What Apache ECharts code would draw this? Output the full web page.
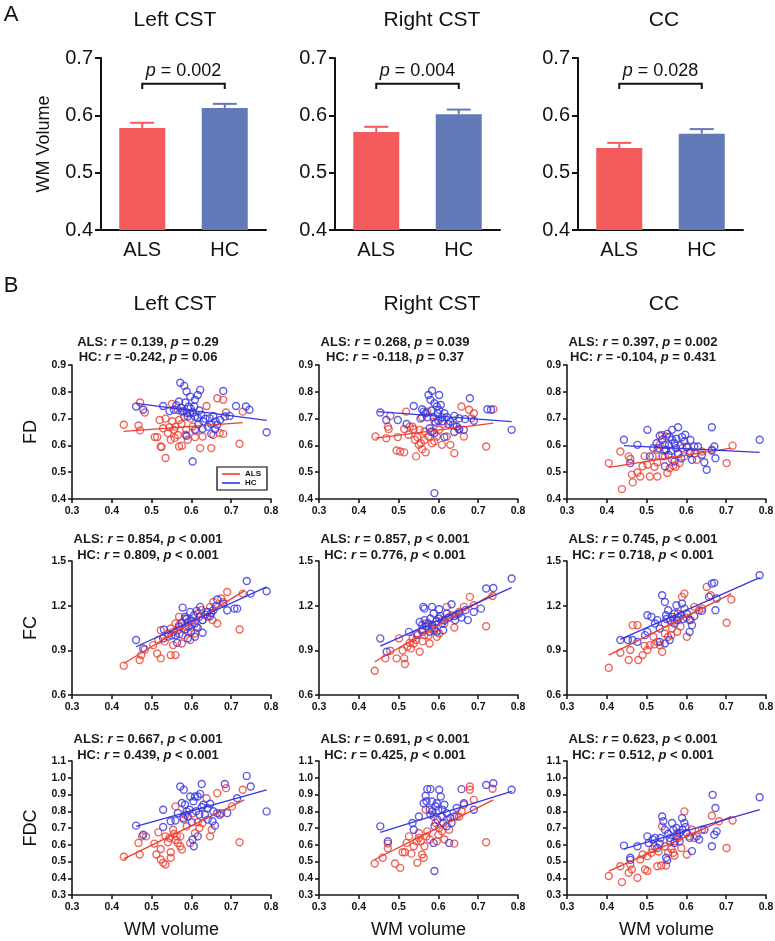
<!DOCTYPE html>
<html>
<head>
<meta charset="utf-8">
<script src="https://cdn.jsdelivr.net/npm/echarts@6/dist/echarts.min.js"></script>
<style>html,body{margin:0;padding:0;background:#fff}#c{width:775px;height:941px}</style>
</head>
<body>
<div id="c"></div>
<script>
// ---------- DATA ----------
const barTitles = ['Left CST', 'Right CST', 'CC'];
const barCategories = ['ALS', 'HC'];
const barMeanLeftCST = [0.578, 0.613];
const barSemLeftCST = [0.009, 0.007];
const barMeanRightCST = [0.571, 0.602];
const barSemRightCST = [0.009, 0.008];
const barMeanCC = [0.543, 0.568];
const barSemCC = [0.009, 0.008];
const barPValues = ['0.002', '0.004', '0.028'];

const regionNames = ['Left CST', 'Right CST', 'CC'];
const metricNames = ['FD', 'FC', 'FDC'];

// stats per panel (row-major: FD L,R,CC ; FC L,R,CC ; FDC L,R,CC)
const statsALS_r = ['0.139','0.268','0.397','0.854','0.857','0.745','0.667','0.691','0.623'];
const statsALS_p = ['= 0.29','= 0.039','= 0.002','< 0.001','< 0.001','< 0.001','< 0.001','< 0.001','< 0.001'];
const statsHC_r = ['-0.242','-0.118','-0.104','0.809','0.776','0.718','0.439','0.425','0.512'];
const statsHC_p = ['= 0.06','= 0.37','= 0.431','< 0.001','< 0.001','< 0.001','< 0.001','< 0.001','< 0.001'];

const fdLeftALS = [[0.430,0.677],[0.467,0.674],[0.471,0.656],[0.471,0.760],[0.483,0.723],[0.508,0.631],[0.514,0.631],[0.520,0.695],[0.523,0.596],[0.525,0.594],[0.535,0.553],[0.529,0.664],[0.541,0.646],[0.548,0.621],[0.556,0.658],[0.560,0.670],[0.551,0.755],[0.566,0.732],[0.569,0.695],[0.566,0.639],[0.569,0.596],[0.576,0.599],[0.582,0.707],[0.587,0.658],[0.591,0.621],[0.603,0.670],[0.609,0.631],[0.622,0.590],[0.628,0.633],[0.638,0.747],[0.650,0.590],[0.655,0.639],[0.665,0.776],[0.680,0.770],[0.671,0.646],[0.680,0.643],[0.687,0.723],[0.721,0.606],[0.729,0.726],[0.545,0.668],[0.558,0.628],[0.575,0.680],[0.598,0.700],[0.612,0.655],[0.535,0.700],[0.552,0.690],[0.585,0.640]];
const fdLeftHC = [[0.461,0.745],[0.479,0.733],[0.529,0.747],[0.572,0.834],[0.582,0.822],[0.588,0.801],[0.597,0.782],[0.609,0.770],[0.622,0.807],[0.616,0.788],[0.569,0.764],[0.574,0.740],[0.580,0.728],[0.589,0.722],[0.598,0.738],[0.603,0.723],[0.607,0.745],[0.556,0.733],[0.576,0.726],[0.597,0.720],[0.609,0.708],[0.625,0.714],[0.630,0.689],[0.646,0.701],[0.655,0.710],[0.661,0.689],[0.665,0.677],[0.650,0.680],[0.641,0.670],[0.628,0.662],[0.609,0.658],[0.588,0.636],[0.603,0.540],[0.650,0.643],[0.684,0.708],[0.696,0.710],[0.712,0.747],[0.737,0.745],[0.746,0.733],[0.789,0.649],[0.680,0.803],[0.616,0.702],[0.591,0.708],[0.562,0.750],[0.585,0.760],[0.593,0.745],[0.620,0.730],[0.635,0.700],[0.672,0.695],[0.545,0.728],[0.618,0.680],[0.660,0.660]];
const fdRightALS = [[0.442,0.633],[0.469,0.627],[0.473,0.670],[0.475,0.661],[0.479,0.710],[0.495,0.581],[0.504,0.577],[0.514,0.574],[0.498,0.631],[0.514,0.661],[0.519,0.726],[0.528,0.670],[0.535,0.670],[0.538,0.661],[0.541,0.621],[0.547,0.631],[0.551,0.602],[0.556,0.608],[0.544,0.559],[0.559,0.586],[0.565,0.652],[0.568,0.574],[0.575,0.633],[0.584,0.608],[0.590,0.689],[0.572,0.726],[0.602,0.658],[0.609,0.602],[0.621,0.633],[0.630,0.602],[0.640,0.571],[0.646,0.670],[0.652,0.658],[0.664,0.633],[0.658,0.745],[0.677,0.733],[0.689,0.720],[0.683,0.701],[0.720,0.596],[0.738,0.735],[0.590,0.615],[0.596,0.633],[0.553,0.658],[0.559,0.705],[0.580,0.650],[0.525,0.640],[0.612,0.680],[0.565,0.620]];
const fdRightHC = [[0.454,0.723],[0.469,0.695],[0.498,0.695],[0.520,0.680],[0.538,0.747],[0.559,0.735],[0.563,0.726],[0.568,0.720],[0.572,0.705],[0.575,0.788],[0.584,0.804],[0.580,0.770],[0.602,0.788],[0.590,0.757],[0.596,0.745],[0.602,0.733],[0.606,0.751],[0.615,0.720],[0.621,0.705],[0.609,0.705],[0.630,0.689],[0.637,0.677],[0.646,0.670],[0.652,0.661],[0.588,0.705],[0.593,0.685],[0.600,0.692],[0.578,0.664],[0.584,0.652],[0.590,0.646],[0.615,0.631],[0.640,0.710],[0.652,0.701],[0.667,0.698],[0.679,0.776],[0.689,0.692],[0.723,0.735],[0.732,0.733],[0.784,0.658],[0.590,0.422],[0.664,0.658],[0.583,0.730],[0.598,0.720],[0.610,0.690],[0.625,0.680],[0.555,0.700],[0.640,0.650]];
const fdCCALS = [[0.405,0.534],[0.434,0.577],[0.438,0.437],[0.455,0.559],[0.459,0.549],[0.463,0.491],[0.465,0.462],[0.477,0.499],[0.484,0.484],[0.490,0.522],[0.502,0.528],[0.508,0.484],[0.527,0.484],[0.515,0.559],[0.527,0.537],[0.533,0.602],[0.539,0.639],[0.549,0.633],[0.552,0.497],[0.558,0.515],[0.567,0.524],[0.573,0.520],[0.583,0.534],[0.595,0.559],[0.601,0.596],[0.611,0.577],[0.626,0.546],[0.639,0.577],[0.664,0.584],[0.701,0.534],[0.716,0.599],[0.527,0.584],[0.546,0.559],[0.564,0.546],[0.579,0.571],[0.495,0.560],[0.520,0.520],[0.590,0.590],[0.620,0.570],[0.545,0.580]];
const fdCCHC = [[0.443,0.621],[0.459,0.534],[0.477,0.602],[0.502,0.658],[0.508,0.559],[0.517,0.590],[0.525,0.608],[0.533,0.636],[0.539,0.621],[0.546,0.602],[0.549,0.584],[0.552,0.643],[0.558,0.631],[0.564,0.621],[0.570,0.608],[0.574,0.590],[0.579,0.568],[0.587,0.552],[0.579,0.668],[0.589,0.631],[0.595,0.615],[0.601,0.593],[0.608,0.571],[0.614,0.546],[0.620,0.596],[0.629,0.596],[0.639,0.565],[0.645,0.537],[0.651,0.509],[0.664,0.668],[0.670,0.596],[0.664,0.581],[0.673,0.552],[0.784,0.621],[0.546,0.522],[0.564,0.658],[0.570,0.540],[0.540,0.560],[0.556,0.600],[0.562,0.580],[0.585,0.600],[0.597,0.640],[0.575,0.625],[0.530,0.590],[0.610,0.620],[0.555,0.565]];
const fcLeftALS = [[0.430,0.797],[0.470,0.835],[0.474,0.868],[0.483,0.906],[0.504,0.935],[0.514,0.879],[0.523,0.846],[0.548,0.868],[0.560,0.868],[0.517,0.969],[0.541,0.991],[0.548,1.047],[0.554,1.024],[0.566,1.035],[0.569,1.069],[0.554,0.935],[0.576,0.946],[0.578,1.002],[0.591,1.024],[0.603,1.080],[0.613,1.058],[0.628,1.103],[0.638,1.158],[0.647,1.192],[0.655,1.225],[0.665,1.080],[0.675,1.248],[0.690,1.292],[0.721,1.040],[0.729,1.281],[0.616,1.147],[0.641,1.125],[0.653,1.103],[0.584,1.114],[0.560,1.080],[0.542,1.013],[0.597,0.969],[0.609,1.013],[0.523,1.035],[0.569,1.125],[0.680,1.225],[0.533,0.960],[0.586,1.060],[0.625,1.170]];
const fcLeftHC = [[0.461,0.969],[0.479,0.913],[0.531,1.040],[0.529,0.980],[0.560,1.002],[0.564,0.951],[0.569,1.058],[0.578,1.187],[0.584,1.125],[0.591,1.091],[0.593,1.058],[0.599,1.024],[0.609,0.991],[0.591,0.980],[0.606,1.136],[0.613,1.165],[0.622,1.192],[0.628,1.103],[0.641,1.158],[0.647,1.129],[0.655,1.169],[0.661,1.196],[0.665,1.241],[0.680,1.214],[0.690,1.169],[0.708,1.180],[0.715,1.180],[0.739,1.366],[0.749,1.281],[0.789,1.297],[0.609,1.080],[0.616,1.051],[0.628,1.018],[0.597,1.158],[0.575,1.085],[0.588,1.110],[0.600,1.100],[0.620,1.125],[0.635,1.140],[0.585,1.040],[0.570,1.010],[0.550,1.000],[0.650,1.150]];
const fcRightALS = [[0.440,0.763],[0.467,0.846],[0.479,0.897],[0.495,0.846],[0.514,0.846],[0.516,0.808],[0.501,0.980],[0.522,0.924],[0.531,0.913],[0.538,0.946],[0.544,0.969],[0.553,0.890],[0.535,0.980],[0.559,1.024],[0.565,1.002],[0.568,1.080],[0.578,0.946],[0.584,1.047],[0.596,0.991],[0.609,1.103],[0.615,1.080],[0.621,1.192],[0.633,1.136],[0.640,1.053],[0.652,1.158],[0.664,1.192],[0.679,1.259],[0.689,1.203],[0.720,1.062],[0.736,1.265],[0.590,1.035],[0.602,1.013],[0.547,1.013],[0.528,0.950],[0.560,0.960],[0.575,1.000],[0.625,1.120],[0.645,1.140],[0.510,0.900]];
const fcRightHC = [[0.454,0.980],[0.470,0.890],[0.526,1.024],[0.547,1.002],[0.559,1.069],[0.565,1.103],[0.562,1.192],[0.565,1.180],[0.575,1.080],[0.580,1.114],[0.588,1.147],[0.584,1.192],[0.590,1.047],[0.596,1.024],[0.602,1.114],[0.609,1.080],[0.612,1.035],[0.621,1.147],[0.627,1.120],[0.633,1.210],[0.642,1.103],[0.652,1.147],[0.658,1.120],[0.674,1.103],[0.689,1.158],[0.707,1.180],[0.720,1.315],[0.738,1.319],[0.784,1.382],[0.553,1.091],[0.578,1.024],[0.602,1.176],[0.570,1.060],[0.585,1.070],[0.595,1.095],[0.605,1.130],[0.615,1.100],[0.560,1.040],[0.640,1.130],[0.668,1.170]];
const fcCCALS = [[0.405,0.783],[0.434,0.884],[0.455,0.835],[0.459,0.902],[0.465,1.069],[0.477,1.069],[0.479,0.835],[0.490,0.868],[0.502,0.902],[0.508,0.935],[0.517,0.991],[0.527,0.957],[0.533,0.935],[0.539,0.890],[0.546,1.013],[0.554,0.991],[0.564,1.047],[0.577,1.024],[0.579,1.147],[0.589,1.259],[0.595,1.281],[0.601,0.991],[0.611,1.103],[0.620,1.192],[0.632,1.169],[0.651,1.326],[0.661,1.270],[0.701,1.085],[0.713,1.241],[0.546,1.080],[0.562,1.002],[0.520,0.940],[0.585,1.060],[0.600,1.120],[0.640,1.180],[0.495,0.930],[0.570,1.100]];
const fcCCHC = [[0.434,0.969],[0.453,0.969],[0.465,0.969],[0.477,0.957],[0.496,1.002],[0.502,1.024],[0.502,1.136],[0.512,1.125],[0.521,1.080],[0.527,1.103],[0.533,1.047],[0.539,1.270],[0.546,1.225],[0.549,1.136],[0.554,1.169],[0.533,0.957],[0.546,0.946],[0.564,1.125],[0.570,1.147],[0.577,1.103],[0.587,1.136],[0.589,1.214],[0.595,1.180],[0.601,1.147],[0.608,1.103],[0.614,1.069],[0.608,1.024],[0.639,1.165],[0.657,1.259],[0.664,1.348],[0.670,1.353],[0.673,1.169],[0.676,1.248],[0.784,1.404],[0.558,0.969],[0.575,1.203],[0.560,1.100],[0.580,1.120],[0.592,1.110],[0.570,1.080],[0.550,1.110],[0.620,1.130]];
const fdcLeftALS = [[0.430,0.528],[0.467,0.611],[0.470,0.542],[0.476,0.650],[0.486,0.650],[0.507,0.607],[0.512,0.542],[0.517,0.674],[0.523,0.575],[0.523,0.512],[0.529,0.492],[0.535,0.482],[0.535,0.650],[0.541,0.615],[0.548,0.555],[0.548,0.522],[0.554,0.690],[0.556,0.664],[0.560,0.829],[0.563,0.650],[0.566,0.611],[0.572,0.591],[0.576,0.571],[0.581,0.750],[0.588,0.710],[0.597,0.611],[0.603,0.788],[0.616,0.734],[0.628,0.730],[0.638,0.878],[0.647,0.650],[0.651,0.690],[0.665,0.908],[0.675,0.788],[0.687,0.938],[0.702,0.829],[0.721,0.615],[0.729,0.928],[0.585,0.779],[0.609,0.670],[0.572,0.650],[0.545,0.640],[0.560,0.630],[0.620,0.700]];
const fdcLeftHC = [[0.461,0.714],[0.479,0.660],[0.529,0.809],[0.529,0.706],[0.548,0.740],[0.560,0.745],[0.566,0.789],[0.572,0.948],[0.581,0.928],[0.576,0.849],[0.584,0.839],[0.588,0.799],[0.591,0.769],[0.597,0.888],[0.601,0.734],[0.603,0.631],[0.606,0.591],[0.609,0.888],[0.616,0.888],[0.622,0.904],[0.626,0.825],[0.630,0.839],[0.634,0.779],[0.641,0.750],[0.647,0.845],[0.653,0.740],[0.659,0.714],[0.665,0.789],[0.671,0.779],[0.626,0.963],[0.684,0.963],[0.690,0.789],[0.715,0.878],[0.739,1.011],[0.749,0.948],[0.789,0.799],[0.616,0.650],[0.641,0.819],[0.595,0.810],[0.605,0.860],[0.612,0.800],[0.620,0.780],[0.580,0.760],[0.655,0.800]];
const fdcRightALS = [[0.440,0.488],[0.460,0.522],[0.473,0.607],[0.473,0.579],[0.491,0.488],[0.504,0.462],[0.510,0.555],[0.516,0.555],[0.520,0.611],[0.526,0.650],[0.532,0.547],[0.538,0.591],[0.547,0.492],[0.551,0.641],[0.556,0.621],[0.559,0.542],[0.563,0.522],[0.565,0.591],[0.568,0.809],[0.572,0.680],[0.578,0.631],[0.588,0.769],[0.596,0.621],[0.602,0.700],[0.609,0.680],[0.615,0.631],[0.621,0.750],[0.627,0.690],[0.640,0.607],[0.646,0.769],[0.652,0.769],[0.658,0.799],[0.664,0.839],[0.679,0.948],[0.679,0.928],[0.689,0.868],[0.720,0.615],[0.736,0.934],[0.593,0.730],[0.551,0.670],[0.545,0.620],[0.570,0.650],[0.600,0.660]];
const fdcRightHC = [[0.454,0.710],[0.473,0.621],[0.535,0.730],[0.538,0.690],[0.551,0.769],[0.563,0.848],[0.568,0.892],[0.572,0.932],[0.580,0.932],[0.578,0.809],[0.584,0.858],[0.588,0.611],[0.590,0.443],[0.596,0.848],[0.600,0.805],[0.602,0.928],[0.606,0.888],[0.609,0.769],[0.612,0.730],[0.615,0.839],[0.621,0.789],[0.627,0.611],[0.633,0.730],[0.640,0.769],[0.646,0.819],[0.658,0.932],[0.664,0.848],[0.689,0.809],[0.720,0.957],[0.738,0.967],[0.784,0.928],[0.621,0.710],[0.590,0.710],[0.580,0.780],[0.593,0.830],[0.585,0.800],[0.610,0.810],[0.630,0.760],[0.570,0.860],[0.598,0.750]];
const fdcCCALS = [[0.405,0.413],[0.434,0.472],[0.438,0.377],[0.455,0.433],[0.459,0.482],[0.463,0.452],[0.477,0.403],[0.484,0.512],[0.490,0.542],[0.496,0.452],[0.502,0.443],[0.502,0.532],[0.512,0.552],[0.515,0.575],[0.521,0.591],[0.527,0.472],[0.537,0.476],[0.539,0.710],[0.549,0.476],[0.554,0.552],[0.562,0.575],[0.567,0.552],[0.570,0.536],[0.577,0.670],[0.587,0.581],[0.595,0.799],[0.601,0.542],[0.608,0.650],[0.614,0.690],[0.639,0.690],[0.664,0.773],[0.682,0.740],[0.701,0.581],[0.716,0.745],[0.570,0.621],[0.546,0.591],[0.530,0.560],[0.580,0.640],[0.620,0.640]];
const fdcCCHC = [[0.443,0.595],[0.459,0.522],[0.459,0.510],[0.477,0.591],[0.502,0.650],[0.505,0.611],[0.515,0.631],[0.521,0.641],[0.527,0.581],[0.533,0.607],[0.539,0.769],[0.542,0.740],[0.546,0.690],[0.549,0.522],[0.552,0.508],[0.554,0.666],[0.558,0.641],[0.564,0.730],[0.567,0.690],[0.570,0.611],[0.577,0.650],[0.583,0.621],[0.589,0.759],[0.595,0.730],[0.598,0.706],[0.601,0.670],[0.608,0.641],[0.614,0.562],[0.626,0.650],[0.632,0.631],[0.645,0.690],[0.664,0.591],[0.670,0.660],[0.676,0.680],[0.666,0.898],[0.673,0.819],[0.784,0.884],[0.583,0.670],[0.560,0.620],[0.590,0.690],[0.575,0.700],[0.535,0.640]];

// regression lines (end points)
const fitFdLeftALS = [[0.430,0.652],[0.729,0.685]];
const fitFdLeftHC = [[0.461,0.757],[0.789,0.693]];
const fitFdRightALS = [[0.442,0.627],[0.738,0.683]];
const fitFdRightHC = [[0.448,0.726],[0.784,0.689]];
const fitFdCCALS = [[0.405,0.518],[0.713,0.590]];
const fitFdCCHC = [[0.443,0.599],[0.784,0.574]];
const fitFcLeftALS = [[0.430,0.812],[0.733,1.299]];
const fitFcLeftHC = [[0.461,0.924],[0.789,1.326]];
const fitFcRightALS = [[0.440,0.823],[0.738,1.281]];
const fitFcRightHC = [[0.454,0.928],[0.784,1.321]];
const fitFcCCALS = [[0.405,0.868],[0.713,1.281]];
const fitFcCCHC = [[0.434,0.973],[0.784,1.388]];
const fitFdcLeftALS = [[0.430,0.516],[0.733,0.868]];
const fitFdcLeftHC = [[0.461,0.710],[0.789,0.928]];
const fitFdcRightALS = [[0.440,0.512],[0.738,0.868]];
const fitFdcRightHC = [[0.454,0.674],[0.784,0.918]];
const fitFdcCCALS = [[0.405,0.443],[0.713,0.769]];
const fitFdcCCHC = [[0.443,0.575],[0.784,0.809]];

// ---------- BUILD ----------
const FONT = "'Liberation Sans', Arial, Helvetica, sans-serif";
const BAR_RED = '#F25A5B', BAR_BLUE = '#6279B8';
const RED = '#EE3D2F', BLUE = '#3535E2';
const INK = '#111';
const BRACKET_TOP = 0.655, BRACKET_FOOT = 0.646;

const barMeans = [barMeanLeftCST, barMeanRightCST, barMeanCC];
const barSems = [barSemLeftCST, barSemRightCST, barSemCC];
const barColors = [BAR_RED, BAR_BLUE];

const panelALS = [fdLeftALS, fdRightALS, fdCCALS, fcLeftALS, fcRightALS, fcCCALS, fdcLeftALS, fdcRightALS, fdcCCALS];
const panelHC = [fdLeftHC, fdRightHC, fdCCHC, fcLeftHC, fcRightHC, fcCCHC, fdcLeftHC, fdcRightHC, fdcCCHC];
const panelFitALS = [fitFdLeftALS, fitFdRightALS, fitFdCCALS, fitFcLeftALS, fitFcRightALS, fitFcCCALS, fitFdcLeftALS, fitFdcRightALS, fitFdcCCALS];
const panelFitHC = [fitFdLeftHC, fitFdRightHC, fitFdCCHC, fitFcLeftHC, fitFcRightHC, fitFcCCHC, fitFdcLeftHC, fitFdcRightHC, fitFdcCCHC];
const yRanges = [{min:0.4,max:0.9,interval:0.1},{min:0.6,max:1.5,interval:0.3},{min:0.3,max:1.1,interval:0.1}];

const barLefts = [101, 335, 578];
const barWidthPx = 165;
const colLefts = [72, 319, 567];
const rowTops = [365, 561, 761];
const titleCenters = [175, 432, 664];
const statY = [[342, 357], [539, 555], [739, 755]];

const grids = [], xAxes = [], yAxes = [], series = [], graphics = [];

// bar charts
for (let i = 0; i < 3; i++) {
  grids.push({left: barLefts[i], top: 58, width: barWidthPx, height: 172, outerBoundsMode: 'none'});
  xAxes.push({
    type: 'category', gridIndex: i, data: barCategories,
    axisLine: {lineStyle: {color: INK, width: 2}},
    axisTick: {alignWithLabel: true, length: 6, lineStyle: {color: INK, width: 2}},
    axisLabel: {fontSize: 20, color: INK, fontFamily: FONT, margin: 10}
  });
  yAxes.push({
    type: 'value', gridIndex: i, min: 0.4, max: 0.7, interval: 0.1,
    name: i === 0 ? 'WM Volume' : '', nameLocation: 'middle', nameGap: 48, nameRotate: 90,
    nameTextStyle: {fontSize: 18, color: INK, fontFamily: FONT},
    axisLine: {show: true, lineStyle: {color: INK, width: 2}},
    axisTick: {show: true, length: 6, lineStyle: {color: INK, width: 2}},
    splitLine: {show: false},
    axisLabel: {fontSize: 20, color: INK, fontFamily: FONT, margin: 8, formatter: v => v.toFixed(1)}
  });
  series.push({
    type: 'bar', name: 'WM ' + barTitles[i], xAxisIndex: i, yAxisIndex: i, barWidth: 46,
    data: barMeans[i].map((v, j) => ({value: v, itemStyle: {color: barColors[j]}})),
    z: 2
  });
  series.push({
    type: 'custom', name: 'err' + i, xAxisIndex: i, yAxisIndex: i, z: 3,
    data: barMeans[i].map((m, j) => [j, m, barSems[i][j]]),
    encode: {x: 0, y: 1},
    renderItem: function (params, api) {
      const x = api.value(0), m = api.value(1), e = api.value(2);
      const p0 = api.coord([x, m]), p1 = api.coord([x, m + e]);
      const c = barColors[x];
      return {type: 'group', children: [
        {type: 'line', shape: {x1: p0[0], y1: p0[1], x2: p1[0], y2: p1[1]}, style: {stroke: c, lineWidth: 2}},
        {type: 'line', shape: {x1: p1[0] - 12, y1: p1[1], x2: p1[0] + 12, y2: p1[1]}, style: {stroke: c, lineWidth: 2}}
      ]};
    }
  });
  const pText = barPValues[i];
  series.push({
    type: 'custom', name: 'p' + i, xAxisIndex: i, yAxisIndex: i, z: 4,
    data: [[0, BRACKET_TOP]], encode: {x: 0, y: 1},
    renderItem: function (params, api) {
      const a = api.coord([0, BRACKET_TOP]), b = api.coord([1, BRACKET_TOP]);
      const a0 = api.coord([0, BRACKET_FOOT]), b0 = api.coord([1, BRACKET_FOOT]);
      return {type: 'group', children: [
        {type: 'polyline', shape: {points: [a0, a, b, b0]}, style: {stroke: INK, lineWidth: 2, fill: null}},
        {type: 'text', x: (a[0] + b[0]) / 2, y: a[1] - 13, style: {
          text: '{i|p} = ' + pText,
          rich: {i: {fontStyle: 'italic', fontSize: 18, fontFamily: FONT, fill: INK}},
          fontSize: 18, fontFamily: FONT, fill: INK, align: 'center', verticalAlign: 'middle'}}
      ]};
    }
  });
  graphics.push({type: 'text', x: titleCenters[i], y: 20, style: {text: barTitles[i], fontSize: 21, fontFamily: FONT, fill: INK, align: 'center', verticalAlign: 'middle'}});
  graphics.push({type: 'text', x: titleCenters[i], y: 304, style: {text: regionNames[i], fontSize: 21, fontFamily: FONT, fill: INK, align: 'center', verticalAlign: 'middle'}});
}

graphics.push({type: 'text', x: 11, y: 15, style: {text: 'A', fontSize: 22, fontFamily: FONT, fill: INK, align: 'center', verticalAlign: 'middle'}});
graphics.push({type: 'text', x: 11, y: 286, style: {text: 'B', fontSize: 22, fontFamily: FONT, fill: INK, align: 'center', verticalAlign: 'middle'}});

const axisLineStyle = {color: '#1a1a1a', width: 1.6};
const richStat = {
  b: {fontWeight: 'bold', fontSize: 13, fontFamily: FONT, fill: '#1a1a1a'},
  bi: {fontWeight: 'bold', fontStyle: 'italic', fontSize: 13, fontFamily: FONT, fill: '#1a1a1a'}
};

for (let r = 0; r < 3; r++) {
  for (let c = 0; c < 3; c++) {
    const k = r * 3 + c;
    const gi = 3 + k;
    grids.push({left: colLefts[c], top: rowTops[r], width: 199, height: 134, outerBoundsMode: 'none'});
    xAxes.push({
      type: 'value', gridIndex: gi, min: 0.3, max: 0.8, interval: 0.1,
      name: r === 2 ? 'WM volume' : '', nameLocation: 'middle', nameGap: 26,
      nameTextStyle: {fontSize: 18, color: INK, fontFamily: FONT},
      axisLine: {show: true, onZero: false, lineStyle: axisLineStyle},
      axisTick: {show: true, length: 4, lineStyle: axisLineStyle},
      splitLine: {show: false},
      axisLabel: {fontSize: 10.5, fontWeight: 'bold', color: INK, fontFamily: FONT, margin: 7, formatter: v => v.toFixed(1)}
    });
    yAxes.push(Object.assign({
      type: 'value', gridIndex: gi,
      name: c === 0 ? metricNames[r] : '', nameLocation: 'middle', nameGap: 32, nameRotate: 90,
      nameTextStyle: {fontSize: 18, color: INK, fontFamily: FONT},
      axisLine: {show: true, onZero: false, lineStyle: axisLineStyle},
      axisTick: {show: true, length: 4, lineStyle: axisLineStyle},
      splitLine: {show: false},
      axisLabel: {fontSize: 10.5, fontWeight: 'bold', color: INK, fontFamily: FONT, margin: 6, formatter: v => v.toFixed(1)}
    }, yRanges[r]));
    series.push({
      type: 'scatter', name: 'ALS', xAxisIndex: gi, yAxisIndex: gi, data: panelALS[k],
      symbol: 'circle', symbolSize: 7, z: 3,
      itemStyle: {color: 'rgba(0,0,0,0)', borderColor: RED, borderWidth: 1.4}
    });
    series.push({
      type: 'scatter', name: 'HC', xAxisIndex: gi, yAxisIndex: gi, data: panelHC[k],
      symbol: 'circle', symbolSize: 7, z: 3,
      itemStyle: {color: 'rgba(0,0,0,0)', borderColor: BLUE, borderWidth: 1.4}
    });
    series.push({
      type: 'line', name: 'ALS', xAxisIndex: gi, yAxisIndex: gi, data: panelFitALS[k],
      symbol: 'none', z: 4, lineStyle: {color: RED, width: 1.3}
    });
    series.push({
      type: 'line', name: 'HC', xAxisIndex: gi, yAxisIndex: gi, data: panelFitHC[k],
      symbol: 'none', z: 4, lineStyle: {color: BLUE, width: 1.3}
    });
    const cx = colLefts[c] + 76;
    graphics.push({type: 'text', x: cx, y: statY[r][0], style: {
      text: '{b|ALS: }{bi|r}{b| = ' + statsALS_r[k] + ', }{bi|p}{b| ' + statsALS_p[k] + '}',
      rich: richStat, align: 'center', verticalAlign: 'middle', fontSize: 13, fontFamily: FONT}});
    graphics.push({type: 'text', x: cx, y: statY[r][1], style: {
      text: '{b|HC: }{bi|r}{b| = ' + statsHC_r[k] + ', }{bi|p}{b| ' + statsHC_p[k] + '}',
      rich: richStat, align: 'center', verticalAlign: 'middle', fontSize: 13, fontFamily: FONT}});
  }
}

const chart = echarts.init(document.getElementById('c'), null, {renderer: 'canvas'});
chart.setOption({
  animation: false,
  backgroundColor: '#fff',
  textStyle: {fontFamily: FONT},
  grid: grids,
  xAxis: xAxes,
  yAxis: yAxes,
  series: series,
  graphic: graphics,
  legend: {
    left: 217, top: 467, orient: 'vertical', selectedMode: false,
    itemWidth: 18, itemHeight: 2, itemGap: 1, padding: [3, 6, 3, 5],
    borderColor: '#000', borderWidth: 1.2, backgroundColor: '#fff',
    textStyle: {fontSize: 8, fontWeight: 'bold', color: INK, fontFamily: FONT},
    data: [
      {name: 'ALS', icon: 'rect', itemStyle: {color: RED, borderWidth: 0}},
      {name: 'HC', icon: 'rect', itemStyle: {color: BLUE, borderWidth: 0}}
    ]
  }
});
</script>
</body>
</html>
